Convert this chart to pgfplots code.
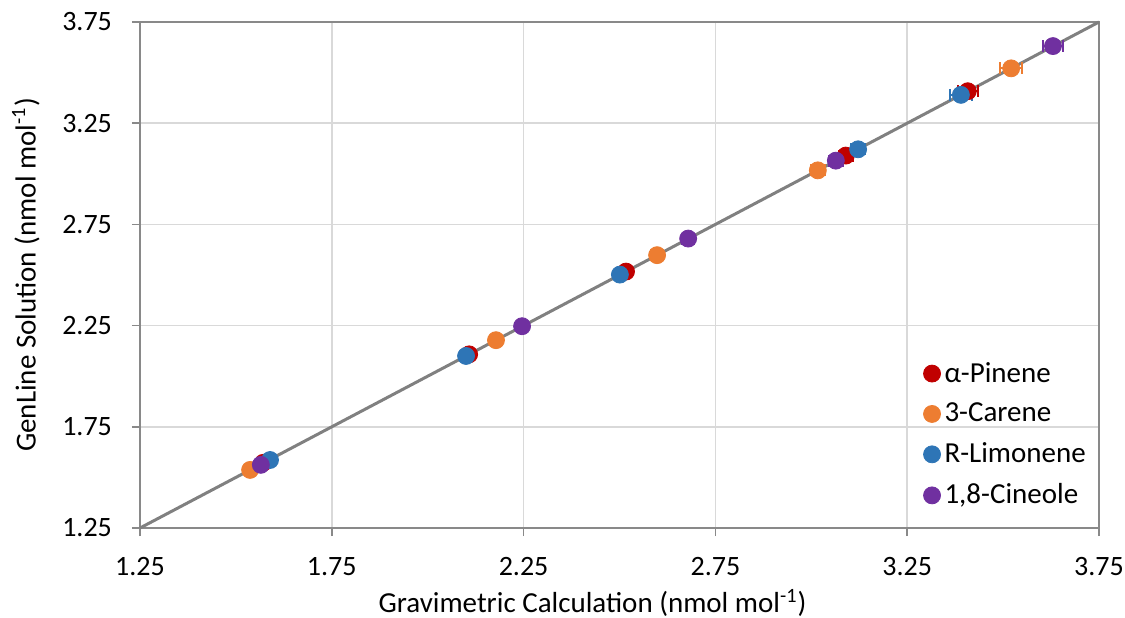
\documentclass[border=0pt]{standalone}
\usepackage{pgfplots}
\pgfplotsset{compat=1.18}
\usepackage{fontspec}
\setmainfont{Carlito}
\definecolor{cRed}{HTML}{C00000}
\definecolor{cOrange}{HTML}{ED7D31}
\definecolor{cBlue}{HTML}{2E75B6}
\definecolor{cPurple}{HTML}{7030A0}
\definecolor{gridc}{HTML}{D9D9D9}
\definecolor{framec}{HTML}{898989}
\definecolor{linec}{HTML}{808080}
\begin{document}
\begin{tikzpicture}
\begin{axis}[
  scale only axis, width=479.5pt, height=253pt,
  xmin=1.25, xmax=3.75, ymin=1.25, ymax=3.75,
  xtick={1.25,1.75,2.25,2.75,3.25,3.75},
  ytick={1.25,1.75,2.25,2.75,3.25,3.75},
  /pgf/number format/fixed, /pgf/number format/fixed zerofill, /pgf/number format/precision=2,
  /pgf/number format/assume math mode=true,
  ticklabel style={font=\fontsize{14}{16}\selectfont, text=black},
  xticklabel style={yshift=-7pt},
  yticklabel style={xshift=-6.5pt},
  grid=major, grid style={gridc, line width=0.8pt},
  axis line style={framec, line width=0.8pt},
  tick pos=left, tick align=outside, major tick length=4pt,
  tick style={framec, line width=0.8pt},
  xlabel={Gravimetric Calculation (nmol mol\textsuperscript{-1})},
  ylabel={GenLine Solution (nmol mol\textsuperscript{-1})},
  label style={font=\fontsize{14.5}{17}\selectfont},
  xlabel style={yshift=0pt, xshift=-13.5pt},
  ylabel style={yshift=4.5pt},
  legend style={draw=none, fill=none, at={(0.995,0.025)}, anchor=south east,
    font=\fontsize{14.5}{17}\selectfont, row sep=5pt, inner sep=2pt},
  legend cell align=left,
  clip=false,
]
\coordinate (sw) at (rel axis cs:0,0);
\coordinate (ne) at (rel axis cs:1,1);
\addplot[linec, line width=1.5pt, forget plot] coordinates {(1.25,1.25) (3.75,3.75)};
\addplot[only marks, mark=*, mark size=4.25pt, cRed, mark options={fill=cRed, draw=cRed},
  error bars/.cd, x dir=both, x explicit, error bar style={line width=1pt, cRed}, error mark options={rotate=90, mark size=3pt, line width=1pt, cRed}]
  table[x=x, y=y, x error=ex] {
x y ex
1.571 1.572 0.010
2.108 2.108 0.012
2.517 2.517 0.014
3.090 3.090 0.018
3.408 3.408 0.026
};
\addlegendentry{α-Pinene}
\addplot[only marks, mark=*, mark size=4.25pt, cOrange, mark options={fill=cOrange, draw=cOrange},
  error bars/.cd, x dir=both, x explicit, error bar style={line width=1pt, cOrange}, error mark options={rotate=90, mark size=3pt, line width=1pt, cOrange}]
  table[x=x, y=y, x error=ex] {
x y ex
1.537 1.537 0.010
2.178 2.178 0.012
2.598 2.598 0.015
3.017 3.017 0.018
3.521 3.521 0.028
};
\addlegendentry{3-Carene}
\addplot[only marks, mark=*, mark size=4.25pt, cBlue, mark options={fill=cBlue, draw=cBlue},
  error bars/.cd, x dir=both, x explicit, error bar style={line width=1pt, cBlue}, error mark options={rotate=90, mark size=3pt, line width=1pt, cBlue}]
  table[x=x, y=y, x error=ex] {
x y ex
1.589 1.586 0.010
2.100 2.100 0.012
2.501 2.502 0.014
3.122 3.121 0.018
3.390 3.390 0.028
};
\addlegendentry{R-Limonene}
\addplot[only marks, mark=*, mark size=4.25pt, cPurple, mark options={fill=cPurple, draw=cPurple},
  error bars/.cd, x dir=both, x explicit, error bar style={line width=1pt, cPurple}, error mark options={rotate=90, mark size=3pt, line width=1pt, cPurple}]
  table[x=x, y=y, x error=ex] {
x y ex
1.565 1.562 0.010
2.246 2.247 0.013
2.679 2.680 0.015
3.064 3.065 0.018
3.630 3.631 0.027
};
\addlegendentry{1,8-Cineole}
\end{axis}
\pgfresetboundingbox
\path ([shift={(-70pt,-44.5pt)}]sw) rectangle ([shift={(13pt,11pt)}]ne);
\end{tikzpicture}
\end{document}
